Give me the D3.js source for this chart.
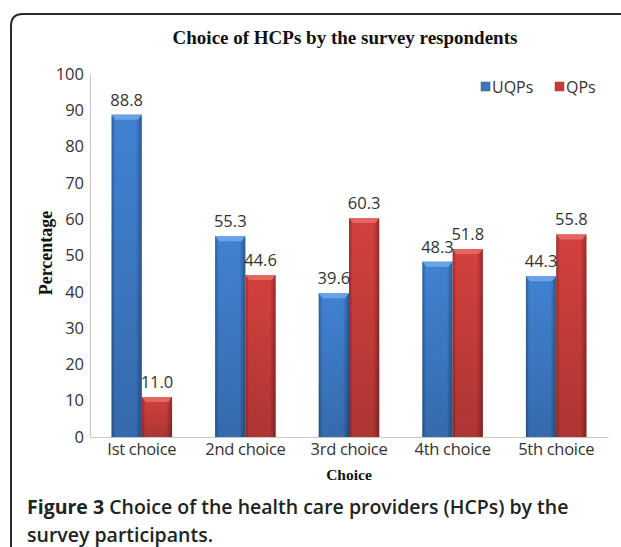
<!DOCTYPE html>
<html>
<head>
<meta charset="utf-8">
<script src="https://cdn.jsdelivr.net/npm/d3@7"></script>
<style>
  html, body { margin: 0; padding: 0; background: #fff; }
  svg { display: block; }
</style>
</head>
<body>
<div id="chart"></div>
<script>
// ---- data ----
const categories = ["Ist choice", "2nd choice", "3rd choice", "4th choice", "5th choice"];
const seriesNames = ["UQPs", "QPs"];
const uqpValues = [88.8, 55.3, 39.6, 48.3, 44.3];
const qpValues = [11.0, 44.6, 60.3, 51.8, 55.8];
const yTicks = [0, 10, 20, 30, 40, 50, 60, 70, 80, 90, 100];
const chartTitle = "Choice of HCPs by the survey respondents";
const yTitle = "Percentage";
const xTitle = "Choice";

const W = 621, H = 547;
const svg = d3.select("#chart").append("svg").attr("width", W).attr("height", H);
const defs = svg.append("defs");

function makeGrad(id, edge, mid, edge2) {
  const g = defs.append("linearGradient").attr("id", id).attr("x1", "0").attr("x2", "1").attr("y1", "0").attr("y2", "0");
  g.append("stop").attr("offset", "0%").attr("stop-color", edge);
  g.append("stop").attr("offset", "12%").attr("stop-color", mid);
  g.append("stop").attr("offset", "80%").attr("stop-color", mid);
  g.append("stop").attr("offset", "100%").attr("stop-color", edge2);
}
makeGrad("gBlue", "#2c5c9a", "#4182d2", "#2b5890");
makeGrad("gRed", "#9c2c2a", "#d3413e", "#962a28");
const vShade = defs.append("linearGradient").attr("id", "gShade").attr("x1", "0").attr("x2", "0").attr("y1", "0").attr("y2", "1");
vShade.append("stop").attr("offset", "0%").attr("stop-color", "#000").attr("stop-opacity", 0);
vShade.append("stop").attr("offset", "100%").attr("stop-color", "#000").attr("stop-opacity", 0.18);

const colors = { UQPs: "url(#gBlue)", QPs: "url(#gRed)" };
const capColors = { UQPs: "#6ea6ea", QPs: "#e56a66" };
const legendColors = { UQPs: "#3a76c4", QPs: "#c93a37" };

// frame
svg.append("path")
  .attr("d", "M 11 " + (H + 10) + " L 11 26 Q 11 14 23 14 L " + (W + 10) + " 14")
  .attr("fill", "none").attr("stroke", "#2a2a2a").attr("stroke-width", 2);

// scales
const plot = { left: 90, right: 608, top: 74, bottom: 437 };
const x0 = d3.scaleBand().domain(categories).range([plot.left, plot.right]).paddingInner(0).paddingOuter(0);
const x1 = d3.scaleBand().domain(seriesNames).range([0, x0.bandwidth()]).paddingInner(0).paddingOuter(0.71);
const y = d3.scaleLinear().domain([0, 100]).range([plot.bottom, plot.top]);

const data = categories.map((c, i) => ({ cat: c, vals: [{ s: "UQPs", v: uqpValues[i] }, { s: "QPs", v: qpValues[i] }] }));

// title
svg.append("text").attr("x", 345).attr("y", 44).attr("text-anchor", "middle")
  .attr("font-family", "Liberation Serif, Times New Roman, serif").attr("font-weight", "bold")
  .attr("font-size", 19).attr("fill", "#111").text(chartTitle);

// y axis
const yAxis = d3.axisLeft(y).tickValues(yTicks).tickSize(0).tickPadding(6);
const gy = svg.append("g").attr("transform", "translate(" + plot.left + ",0)").call(yAxis);
gy.select(".domain").attr("stroke", "#c8c8c8").attr("stroke-width", 1.2);
gy.selectAll("text").attr("font-family", "Open Sans, sans-serif").attr("font-size", 16.5).attr("fill", "#333");

// x axis
const xAxis = d3.axisBottom(x0).tickSize(0).tickPadding(6);
const gx = svg.append("g").attr("transform", "translate(0," + plot.bottom + ")").call(xAxis);
gx.select(".domain").attr("stroke", "#c8c8c8").attr("stroke-width", 1.2);
gx.selectAll("text").attr("font-family", "Open Sans, sans-serif").attr("font-size", 16.5).attr("fill", "#333").attr("letter-spacing", -0.3);

// bars
const groups = svg.append("g").selectAll("g").data(data).join("g")
  .attr("transform", d => "translate(" + x0(d.cat) + ",0)");
groups.selectAll("rect.bar").data(d => d.vals).join("rect").attr("class", "bar")
  .attr("x", d => x1(d.s)).attr("y", d => y(d.v))
  .attr("width", x1.bandwidth()).attr("height", d => y(0) - y(d.v))
  .attr("fill", d => colors[d.s]);
groups.selectAll("rect.shade").data(d => d.vals).join("rect").attr("class", "shade")
  .attr("x", d => x1(d.s)).attr("y", d => y(d.v))
  .attr("width", x1.bandwidth()).attr("height", d => y(0) - y(d.v))
  .attr("fill", "url(#gShade)");
// top bevel
groups.selectAll("path.cap").data(d => d.vals).join("path").attr("class", "cap")
  .attr("d", d => {
    const xa = x1(d.s), xb = xa + x1.bandwidth(), yt = y(d.v);
    return "M" + xa + "," + yt + " L" + xb + "," + yt + " L" + (xb - 4) + "," + (yt + 5) + " L" + (xa + 4) + "," + (yt + 5) + " Z";
  })
  .attr("fill", d => capColors[d.s]).attr("opacity", 0.9);

// value labels
groups.selectAll("text.val").data(d => d.vals).join("text").attr("class", "val")
  .attr("x", d => x1(d.s) + x1.bandwidth() / 2)
  .attr("y", d => y(d.v) - 9)
  .attr("text-anchor", "middle")
  .attr("font-family", "Open Sans, sans-serif").attr("font-size", 16.5).attr("fill", "#333")
  .text(d => d.v.toFixed(1));

// axis titles
svg.append("text").attr("transform", "translate(52,253) rotate(-90)").attr("text-anchor", "middle")
  .attr("font-family", "Liberation Serif, Times New Roman, serif").attr("font-weight", "bold")
  .attr("font-size", 18).attr("fill", "#111").text(yTitle);
svg.append("text").attr("x", 349).attr("y", 480).attr("text-anchor", "middle")
  .attr("font-family", "Liberation Serif, Times New Roman, serif").attr("font-weight", "bold")
  .attr("font-size", 15.5).attr("fill", "#111").text(xTitle);

// legend
const legendX = { UQPs: 481, QPs: 555 };
const lg = svg.append("g").selectAll("g").data(seriesNames).join("g")
  .attr("transform", d => "translate(" + legendX[d] + ",82)");
lg.append("rect").attr("width", 9).attr("height", 9).attr("fill", d => legendColors[d]).attr("stroke", "#555").attr("stroke-width", 0.5);
lg.append("text").attr("x", 11).attr("y", 10.5).attr("font-family", "Open Sans, sans-serif").attr("font-size", 16)
  .attr("fill", "#333").text(d => d);

// caption
const cap = svg.append("text").attr("x", 27).attr("y", 514)
  .attr("font-family", "Open Sans, sans-serif").attr("font-size", 19.5).attr("fill", "#222");
cap.append("tspan").attr("font-weight", "bold").text("Figure 3 ");
cap.append("tspan").attr("font-weight", 600).text("Choice of the health care providers (HCPs) by the");
svg.append("text").attr("x", 27).attr("y", 542)
  .attr("font-family", "Open Sans, sans-serif").attr("font-size", 19.5).attr("font-weight", 600).attr("fill", "#222")
  .text("survey participants.");
</script>
</body>
</html>
